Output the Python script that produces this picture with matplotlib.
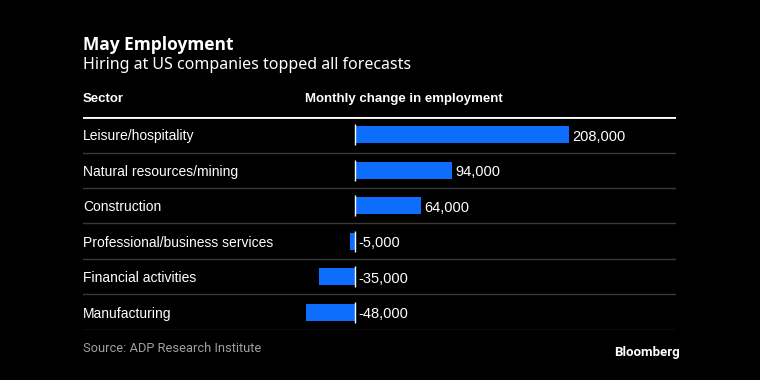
import matplotlib.pyplot as plt

# data
sectors = ['Leisure/hospitality', 'Natural resources/mining', 'Construction',
           'Professional/business services', 'Financial activities', 'Manufacturing']
change = [208000, 94000, 64000, -5000, -35000, -48000]

bg = '#000000'
blue = '#0d6efd'
grey = '#3a3a3a'

plt.rcParams['font.family'] = ['Liberation Sans', 'DejaVu Sans']

fig = plt.figure(figsize=(7.6, 3.8), dpi=100, facecolor=bg)
ax = fig.add_axes([0.1092, 0.1316, 0.7803, 0.5605], facecolor=bg)

ys = list(range(len(sectors)))
vals = [v / 1000 for v in change]
ax.barh(ys, vals, height=0.48, color=blue, zorder=2)

# zero line, one short piece per row
ax.vlines([0] * len(ys), [y - 0.3 for y in ys], [y + 0.3 for y in ys],
          color='white', lw=1, zorder=3)

# row separators and the thick header rule
for y in ys:
    ax.axhline(y + 0.5, color=grey, lw=1)
ax.axhline(-0.5, color='white', lw=2)

for y, v, name in zip(ys, vals, sectors):
    ax.text(0, y + 0.04, name, transform=ax.get_yaxis_transform(), color='white',
            fontsize=10, va='center', ha='left')
    ax.annotate(f'{int(v * 1000):,}', (max(v, 0), y), xytext=(2.5, -1.5),
                textcoords='offset points', color='white', fontsize=10.5,
                va='center', ha='left')

ax.set_xlim(-264.3, 312.0)
ax.set_ylim(5.5, -0.5)
ax.axis('off')

# titles and notes
fig.text(0.109, 0.882, 'May Employment', color='white', fontsize=12.5,
         fontweight='bold', family=['Open Sans', 'DejaVu Sans'], va='center')
fig.text(0.109, 0.828, 'Hiring at US companies topped all forecasts', color='white',
         fontsize=11.5, family=['Noto Sans', 'DejaVu Sans'], va='center')
fig.text(0.109, 0.739, 'Sector', color='white', fontsize=9.5, fontweight='bold', va='center')
fig.text(0.401, 0.739, 'Monthly change in employment', color='white', fontsize=9.5,
         fontweight='bold', va='center')
fig.text(0.109, 0.082, 'Source: ADP Research Institute', color='#a0a0a0',
         fontsize=9.3, family=['Roboto', 'DejaVu Sans'], va='center')
fig.text(0.894, 0.073, 'Bloomberg', color='white', fontsize=9.5, fontweight='bold',
         family=['Roboto', 'DejaVu Sans'], va='center', ha='right')

fig.savefig('out.png', dpi=100, facecolor=bg)
